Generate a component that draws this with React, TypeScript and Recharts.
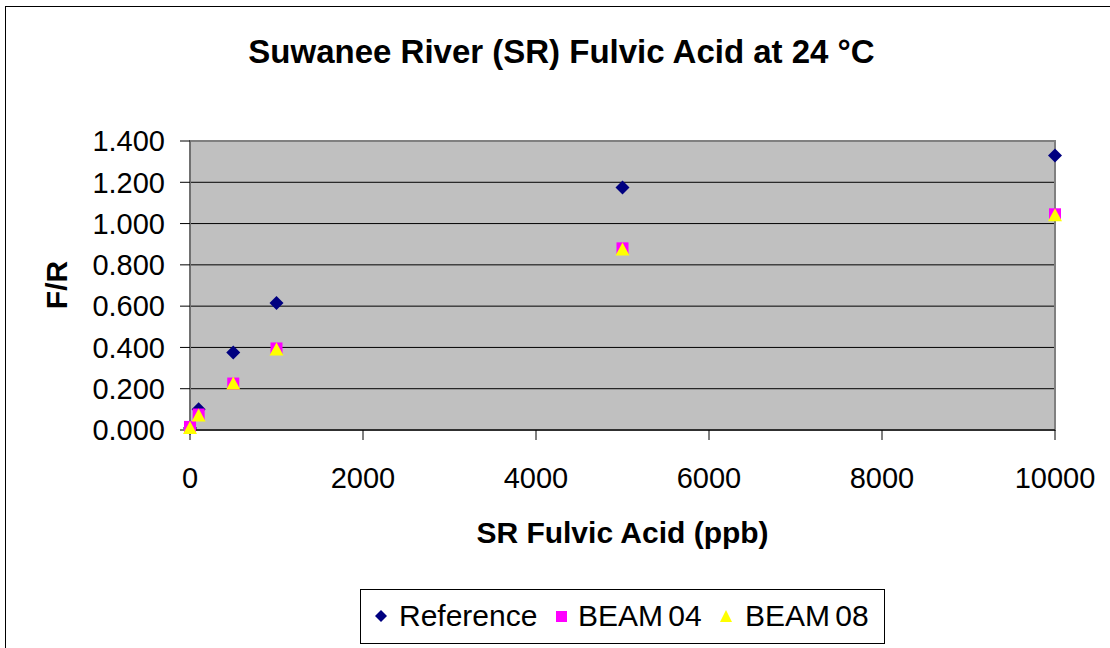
import React from "react"
import {
  ScatterChart,
  Scatter,
  XAxis,
  YAxis,
  CartesianGrid,
  ReferenceArea,
} from "recharts"

const concentrations = [0, 100, 500, 1000, 5000, 10000]
const referenceValues = [0.01, 0.1, 0.375, 0.615, 1.175, 1.33]
const beam04Values = [0.015, 0.075, 0.225, 0.395, 0.88, 1.045]
const beam08Values = [0.01, 0.07, 0.225, 0.39, 0.875, 1.04]

const xTicks = [0, 2000, 4000, 6000, 8000, 10000]
const yTicks = [0, 0.2, 0.4, 0.6, 0.8, 1.0, 1.2, 1.4]

const font = "'Liberation Sans', Arial, sans-serif"

const toPoints = (values: number[]) =>
  concentrations.map((x, i) => ({ x, y: values[i] }))

const referenceData = toPoints(referenceValues)
const beam04Data = toPoints(beam04Values)
const beam08Data = toPoints(beam08Values)

const Diamond = (props: any) => {
  const { cx, cy } = props
  const r = 7
  return (
    <path
      d={`M${cx},${cy - r}L${cx + r},${cy}L${cx},${cy + r}L${cx - r},${cy}Z`}
      fill="#000080"
    />
  )
}

const Square = (props: any) => {
  const { cx, cy } = props
  return <rect x={cx - 6} y={cy - 6} width={12} height={12} fill="#FF00FF" />
}

const Triangle = (props: any) => {
  const { cx, cy } = props
  return (
    <path
      d={`M${cx},${cy - 7}L${cx + 7},${cy + 6}L${cx - 7},${cy + 6}Z`}
      fill="#FFFF00"
    />
  )
}

function LegendBox() {
  const text = {
    position: "absolute" as const,
    top: 9,
    fontSize: 30,
    lineHeight: "34px",
    wordSpacing: -3,
  }
  return (
    <div
      style={{
        position: "absolute",
        left: 360,
        top: 589,
        width: 523,
        height: 53,
        border: "1px solid #000",
        background: "#fff",
        fontFamily: font,
        color: "#000",
      }}
    >
      <svg width={523} height={53} style={{ position: "absolute", left: 0, top: 0 }}>
        <path d="M20,20L26,26L20,32L14,26Z" fill="#000080" />
        <rect x={195} y={21} width={11} height={11} fill="#FF00FF" />
        <path d="M365,20L371,32L359,32Z" fill="#FFFF00" />
      </svg>
      <span style={{ ...text, left: 38 }}>Reference</span>
      <span style={{ ...text, left: 217 }}>BEAM 04</span>
      <span style={{ ...text, left: 384 }}>BEAM 08</span>
    </div>
  )
}

export default function App() {
  return (
    <div
      style={{
        position: "absolute",
        left: 0,
        top: 0,
        width: 1110,
        height: 648,
        background: "#fff",
        overflow: "hidden",
        fontFamily: font,
      }}
    >
      <div
        style={{
          position: "absolute",
          left: 5,
          top: 6,
          width: 1200,
          height: 800,
          border: "1.5px solid #000",
        }}
      />
      <div
        style={{
          position: "absolute",
          left: 0,
          width: 1123,
          top: 33,
          textAlign: "center",
          fontSize: 33,
          fontWeight: "bold",
          lineHeight: "38px",
        }}
      >
        Suwanee River (SR) Fulvic Acid at 24 °C
      </div>
      <div style={{ position: "absolute", left: 0, top: 0 }}>
        <ScatterChart
          width={1110}
          height={648}
          margin={{ top: 141, right: 55, bottom: 158, left: 90 }}
        >
          <CartesianGrid
            vertical={false}
            stroke="#000"
            strokeWidth={1}
            fill="#C0C0C0"
            fillOpacity={1}
          />
          <ReferenceArea
            x1={0}
            x2={10000}
            y1={0}
            y2={1.4}
            fill="none"
            stroke="#808080"
            strokeWidth={2}
            ifOverflow="visible"
          />
          <XAxis
            type="number"
            dataKey="x"
            domain={[0, 10000]}
            ticks={xTicks}
            height={60}
            tickSize={10}
            tickMargin={27}
            axisLine={{ stroke: "#303030", strokeWidth: 2 }}
            tickLine={{ stroke: "#000" }}
            tick={{ fontSize: 29, fill: "#000", fontFamily: font }}
            interval={0}
          />
          <YAxis
            type="number"
            dataKey="y"
            domain={[0, 1.4]}
            ticks={yTicks}
            width={100}
            tickSize={10}
            tickMargin={15}
            axisLine={{ stroke: "#707070", strokeWidth: 2 }}
            tickLine={{ stroke: "#000" }}
            tick={{ fontSize: 29, fill: "#000", fontFamily: font }}
            tickFormatter={(v: number) => v.toFixed(3)}
            interval={0}
          />
          <Scatter
            name="Reference"
            data={referenceData}
            shape={Diamond}
            isAnimationActive={false}
          />
          <Scatter
            name="BEAM 04"
            data={beam04Data}
            shape={Square}
            isAnimationActive={false}
          />
          <Scatter
            name="BEAM 08"
            data={beam08Data}
            shape={Triangle}
            isAnimationActive={false}
          />
        </ScatterChart>
      </div>
      <div
        style={{
          position: "absolute",
          left: 0,
          width: 1245,
          top: 516,
          textAlign: "center",
          fontSize: 30,
          fontWeight: "bold",
          lineHeight: "34px",
        }}
      >
        SR Fulvic Acid (ppb)
      </div>
      <div
        style={{
          position: "absolute",
          left: 57,
          top: 285,
          transform: "translate(-50%, -50%) rotate(-90deg)",
          fontSize: 30,
          fontWeight: "bold",
          whiteSpace: "nowrap",
          lineHeight: "34px",
        }}
      >
        F/R
      </div>
      <LegendBox />
    </div>
  )
}
